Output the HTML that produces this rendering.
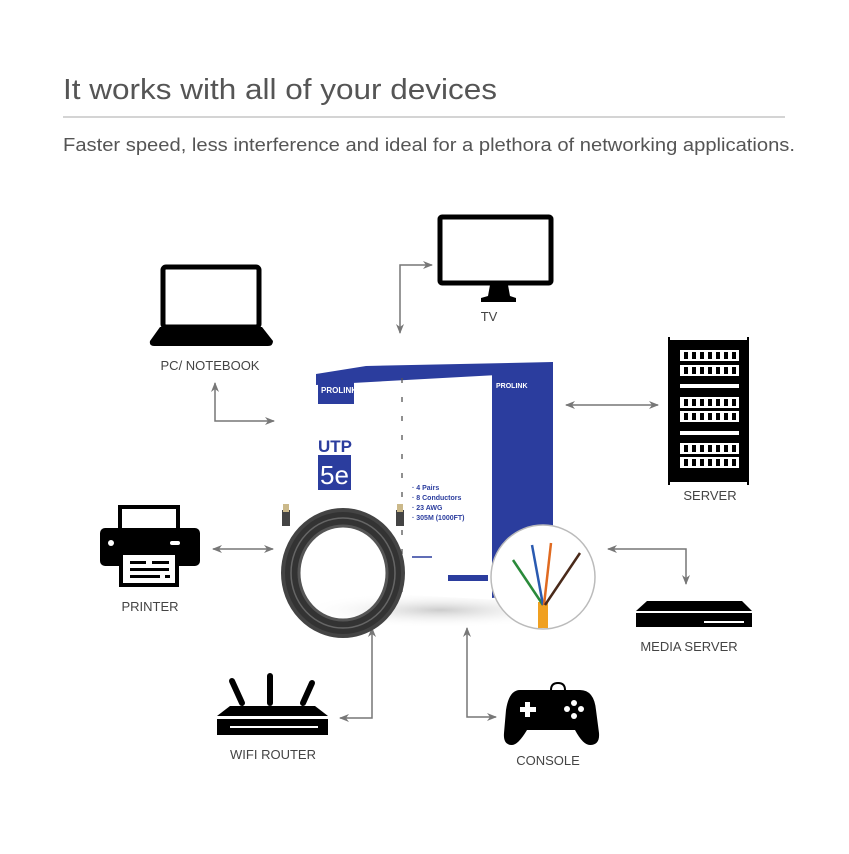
<!DOCTYPE html>
<html><head><meta charset="utf-8"><style>
html,body{margin:0;padding:0;background:#fff;}
body{width:849px;height:849px;overflow:hidden;font-family:"Liberation Sans",sans-serif;}
</style></head><body>
<svg width="849" height="849" viewBox="0 0 849 849" xmlns="http://www.w3.org/2000/svg">
<defs>
<marker id="ah" markerWidth="10" markerHeight="8" refX="9" refY="4" orient="auto-start-reverse" markerUnits="userSpaceOnUse">
<path d="M0,0 L10,4 L0,8 L3,4 Z" fill="#777"/></marker>
<radialGradient id="sh" cx="0.5" cy="0.5" r="0.5"><stop offset="0" stop-color="#ccc"/><stop offset="1" stop-color="#fff" stop-opacity="0"/></radialGradient>
</defs>
<text x="63" y="99" font-size="29" fill="#555" textLength="434" lengthAdjust="spacingAndGlyphs">It works with all of your devices</text>
<line x1="63" y1="117" x2="785" y2="117" stroke="#bbb" stroke-width="1.2"/>
<text x="63" y="151" font-size="18" fill="#555" textLength="732" lengthAdjust="spacingAndGlyphs">Faster speed, less interference and ideal for a plethora of networking applications.</text>

<g fill="none" stroke="#777" stroke-width="1.5">
<polyline points="400,333 400,265 432,265" marker-start="url(#ah)" marker-end="url(#ah)"/>
<polyline points="215,383 215,421 274,421" marker-start="url(#ah)" marker-end="url(#ah)"/>
<line x1="566" y1="405" x2="658" y2="405" marker-start="url(#ah)" marker-end="url(#ah)"/>
<line x1="213" y1="549" x2="273" y2="549" marker-start="url(#ah)" marker-end="url(#ah)"/>
<polyline points="608,549 686,549 686,584" marker-start="url(#ah)" marker-end="url(#ah)"/>
<polyline points="372,628 372,718 340,718" marker-start="url(#ah)" marker-end="url(#ah)"/>
<polyline points="467,628 467,717 496,717" marker-start="url(#ah)" marker-end="url(#ah)"/>
</g>

<!-- TV -->
<rect x="440" y="217" width="111" height="66" fill="#fff" stroke="#000" stroke-width="5" rx="2"/>
<path d="M490,285 L508,285 L510,296 L516,298 L516,302 L481,302 L481,298 L488,296 Z" fill="#000"/>
<text x="489" y="321" font-size="13" fill="#444" text-anchor="middle">TV</text>

<!-- Laptop -->
<rect x="163" y="267" width="96" height="60" fill="#fff" stroke="#000" stroke-width="5" rx="3"/>
<path d="M160,327 L262,327 L273,341 Q273,346 268,346 L154,346 Q149,346 150,341 Z" fill="#000"/>
<text x="210" y="370" font-size="13" fill="#444" text-anchor="middle">PC/ NOTEBOOK</text>

<!-- Server -->
<rect x="670" y="340" width="78" height="142" fill="#000"/>
<rect x="668" y="337" width="2" height="148" fill="#000"/><rect x="747" y="337" width="2" height="148" fill="#000"/>
<g fill="#fff">
<rect x="680" y="350" width="59" height="11"/><rect x="680" y="365" width="59" height="11"/>
<rect x="680" y="384" width="59" height="4"/>
<rect x="680" y="397" width="59" height="11"/><rect x="680" y="411" width="59" height="11"/>
<rect x="680" y="431" width="59" height="4"/>
<rect x="680" y="443" width="59" height="11"/><rect x="680" y="457" width="59" height="11"/>
</g>
<g fill="#000">
<g id="dots"><rect x="684" y="352" width="4" height="7"/><rect x="692" y="352" width="4" height="7"/><rect x="700" y="352" width="4" height="7"/><rect x="708" y="352" width="4" height="7"/><rect x="716" y="352" width="4" height="7"/><rect x="724" y="352" width="4" height="7"/><rect x="732" y="352" width="4" height="7"/></g>
<use href="#dots" y="15"/><use href="#dots" y="47"/><use href="#dots" y="61"/><use href="#dots" y="93"/><use href="#dots" y="107"/>
</g>
<text x="710" y="500" font-size="13" fill="#444" text-anchor="middle">SERVER</text>

<!-- Box -->
<ellipse cx="440" cy="610" rx="140" ry="18" fill="url(#sh)"/>
<polygon points="316,374 553,362 553,590 500,600 316,590" fill="#fff"/>
<polygon points="316,374 366,366 553,362 553,372 316,385" fill="#2b3d9e"/>
<polygon points="492,370 553,362 553,590 492,598" fill="#2b3d9e"/>
<rect x="318" y="378" width="36" height="26" fill="#2b3d9e"/>
<text x="321" y="393" font-size="8" font-weight="bold" fill="#fff">PROLINK</text>
<text x="496" y="388" font-size="7" font-weight="bold" fill="#fff">PROLINK</text>
<text x="318" y="452" font-size="17" font-weight="bold" fill="#2b3d9e">UTP</text>
<rect x="318" y="455" width="33" height="35" fill="#2b3d9e"/>
<text x="320" y="484" font-size="26" fill="#fff">5e</text>
<line x1="402" y1="378" x2="402" y2="595" stroke="#555" stroke-width="1.3" stroke-dasharray="5,14"/>
<g font-size="7" fill="#2b3d9e" font-weight="bold">
<text x="412" y="490">· 4 Pairs</text><text x="412" y="500">· 8 Conductors</text><text x="412" y="510">· 23 AWG</text><text x="412" y="520">· 305M (1000FT)</text>
</g>
<rect x="448" y="575" width="40" height="6" fill="#2b3d9e"/>
<line x1="412" y1="557" x2="432" y2="557" stroke="#2b3d9e" stroke-width="1.5"/>

<!-- Cable coil -->
<g fill="none">
<ellipse cx="343" cy="573" rx="52" ry="55" stroke="#333" stroke-width="18"/>
<ellipse cx="343" cy="573" rx="44" ry="47" stroke="#555" stroke-width="3"/>
<ellipse cx="343" cy="573" rx="52" ry="55" stroke="#666" stroke-width="1.5"/>
<ellipse cx="343" cy="573" rx="60" ry="63" stroke="#444" stroke-width="4"/>
</g>
<rect x="282" y="510" width="8" height="16" fill="#444"/><rect x="283" y="504" width="6" height="8" fill="#cbb98a"/>
<rect x="396" y="510" width="8" height="16" fill="#444"/><rect x="397" y="504" width="6" height="8" fill="#cbb98a"/>

<!-- Wire circle -->
<circle cx="543" cy="577" r="52" fill="#fff" stroke="#bbb" stroke-width="1.5"/>
<rect x="538" y="602" width="10" height="26" fill="#f0a020"/>
<g fill="none" stroke-width="2.5">
<path d="M543,605 L513,560" stroke="#2a8a3a"/>
<path d="M543,605 L532,545" stroke="#2a5ab0"/>
<path d="M544,605 L551,543" stroke="#e06a20"/>
<path d="M545,605 L580,553" stroke="#4a2a1a"/>
</g>

<!-- Printer -->
<rect x="120" y="507" width="58" height="28" fill="#fff" stroke="#000" stroke-width="4"/>
<rect x="100" y="528" width="100" height="38" rx="5" fill="#000"/>
<circle cx="111" cy="543" r="3" fill="#fff"/><rect x="170" y="541" width="10" height="4" rx="2" fill="#fff"/>
<rect x="121" y="553" width="56" height="32" fill="#fff" stroke="#000" stroke-width="4"/>
<g fill="#000"><rect x="130" y="561" width="16" height="3"/><rect x="152" y="561" width="17" height="3"/><rect x="130" y="568" width="39" height="3"/><rect x="130" y="575" width="30" height="3"/><rect x="165" y="575" width="5" height="3"/></g>
<text x="150" y="611" font-size="13" fill="#444" text-anchor="middle">PRINTER</text>

<!-- Media server -->
<path d="M647,601 L742,601 L752,611 L636,611 Z" fill="#000"/>
<rect x="636" y="613" width="116" height="14" fill="#000"/>
<rect x="704" y="621" width="40" height="2" fill="#fff"/>
<text x="689" y="651" font-size="13" fill="#444" text-anchor="middle">MEDIA SERVER</text>

<!-- Router -->
<g stroke="#000" stroke-width="6" stroke-linecap="round">
<line x1="232" y1="681" x2="242" y2="703"/><line x1="270" y1="676" x2="270" y2="703"/><line x1="312" y1="683" x2="303" y2="703"/>
</g>
<path d="M230,706 L315,706 L328,716 L217,716 Z" fill="#000"/>
<rect x="217" y="719" width="111" height="16" fill="#000"/>
<rect x="230" y="726" width="88" height="2" fill="#fff"/>
<text x="273" y="759" font-size="13" fill="#444" text-anchor="middle">WIFI ROUTER</text>

<!-- Console -->
<path d="M551,690 Q551,683 558,683 Q565,683 565,690" fill="none" stroke="#000" stroke-width="2"/>
<path d="M520,690 L580,690 Q594,690 596,710 L599,733 Q600,745 590,745 Q583,745 575,730 L527,730 Q518,745 512,745 Q503,745 504,733 L506,710 Q509,690 520,690 Z" fill="#000"/>
<g fill="#fff"><rect x="520" y="707" width="16" height="5"/><rect x="525" y="702" width="5" height="15"/>
<circle cx="574" cy="703" r="3"/><circle cx="574" cy="716" r="3"/><circle cx="567" cy="709" r="3"/><circle cx="581" cy="709" r="3"/></g>
<text x="548" y="765" font-size="13" fill="#444" text-anchor="middle">CONSOLE</text>
</svg>
</body></html>
